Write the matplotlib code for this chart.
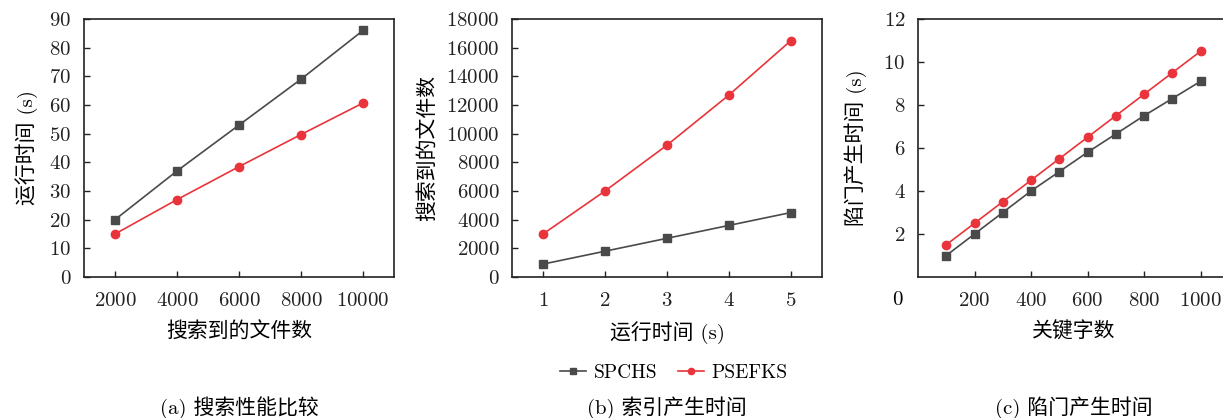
import matplotlib
matplotlib.use("Agg")
import matplotlib.pyplot as plt

plt.rcParams['font.family'] = ['cmr10', 'Noto Sans CJK SC', 'DejaVu Sans']
plt.rcParams['axes.formatter.use_mathtext'] = True
plt.rcParams['mathtext.fontset'] = 'cm'

# Panel (a)
a_x = [2000, 4000, 6000, 8000, 10000]
a_spchs = [20, 37, 53, 69, 86]
a_psefks = [15, 27, 38.5, 49.7, 60.7]

# Panel (b)
b_x = [1, 2, 3, 4, 5]
b_spchs = [900, 1800, 2700, 3600, 4500]
b_psefks = [3000, 6000, 9200, 12700, 16500]

# Panel (c)
c_x = [100, 200, 300, 400, 500, 600, 700, 800, 900, 1000]
c_spchs = [1.0, 2.0, 3.0, 4.0, 4.9, 5.8, 6.65, 7.5, 8.3, 9.1]
c_psefks = [1.5, 2.5, 3.5, 4.5, 5.5, 6.5, 7.5, 8.5, 9.5, 10.5]

series_names = ['SPCHS', 'PSEFKS']
captions = ['(a) 搜索性能比较', '(b) 索引产生时间', '(c) 陷门产生时间']

GRAY = '#4a4a4a'
RED = '#e8343a'
FS = 15
CJKW = 'light'

W, H = 1223, 418
fig = plt.figure(figsize=(W / 100, H / 100), dpi=100)

def px_axes(left, top, width, height):
    return fig.add_axes([left / W, 1 - (top + height) / H, width / W, height / H])

def style(ax):
    for s in ax.spines.values():
        s.set_color('#222222')
        s.set_linewidth(1.2)
    ax.tick_params(direction='in', length=4, width=1, colors='#222222',
                   labelsize=FS, pad=11)
    ax.tick_params(axis='y', pad=9)

def draw(ax, x, s1, s2):
    l1, = ax.plot(x, s1, color=GRAY, marker='s', ms=5.5, lw=1.2, label=series_names[0])
    l2, = ax.plot(x, s2, color=RED, marker='o', ms=6, lw=1.2, label=series_names[1])
    return l1, l2

axa = px_axes(84, 19, 310, 258)
draw(axa, a_x, a_spchs, a_psefks)
axa.set_xlim(1000, 11000)
axa.set_ylim(0, 90)
axa.set_xticks(a_x)
axa.set_yticks(range(0, 91, 10))
style(axa)
axa.set_xlabel('搜索到的文件数', fontsize=FS, labelpad=8, fontweight=CJKW)
axa.set_ylabel('运行时间 (s)', fontsize=FS, labelpad=8, fontweight=CJKW)

axb = px_axes(512, 19, 310, 258)
l1, l2 = draw(axb, b_x, b_spchs, b_psefks)
axb.set_xlim(0.5, 5.5)
axb.set_ylim(0, 18000)
axb.set_xticks(b_x)
axb.set_yticks(range(0, 18001, 2000))
style(axb)
axb.set_xlabel('运行时间 (s)', fontsize=FS, labelpad=8, fontweight=CJKW)
axb.set_ylabel('搜索到的文件数', fontsize=FS, labelpad=6, fontweight=CJKW)

axc = px_axes(918, 19, 310.8, 258)
draw(axc, c_x, c_spchs, c_psefks)
axc.set_xlim(0, 1100)
axc.set_ylim(0, 12)
axc.set_xticks(range(200, 1001, 200))
axc.set_yticks(range(2, 13, 2))
style(axc)
axc.set_xlabel('关键字数', fontsize=FS, labelpad=8, fontweight=CJKW)
axc.set_ylabel('陷门产生时间 (s)', fontsize=FS, labelpad=12, fontweight=CJKW)
fig.text(903 / W, 1 - 300 / H, '0', fontsize=FS, ha='right', va='center')

fig.legend(handles=[l1, l2], loc='center', bbox_to_anchor=(674 / W, 1 - 373 / H),
           ncol=2, frameon=False, fontsize=14, handlelength=1.3, handletextpad=0.4,
           columnspacing=1.1, borderaxespad=0, markerscale=0.75)

for cx, cap in zip([239, 667, 1074], captions):
    fig.text(cx / W, 1 - 408 / H, cap, fontsize=FS, ha='center', va='center',
             fontweight=CJKW)

fig.savefig('out.png', dpi=100)
